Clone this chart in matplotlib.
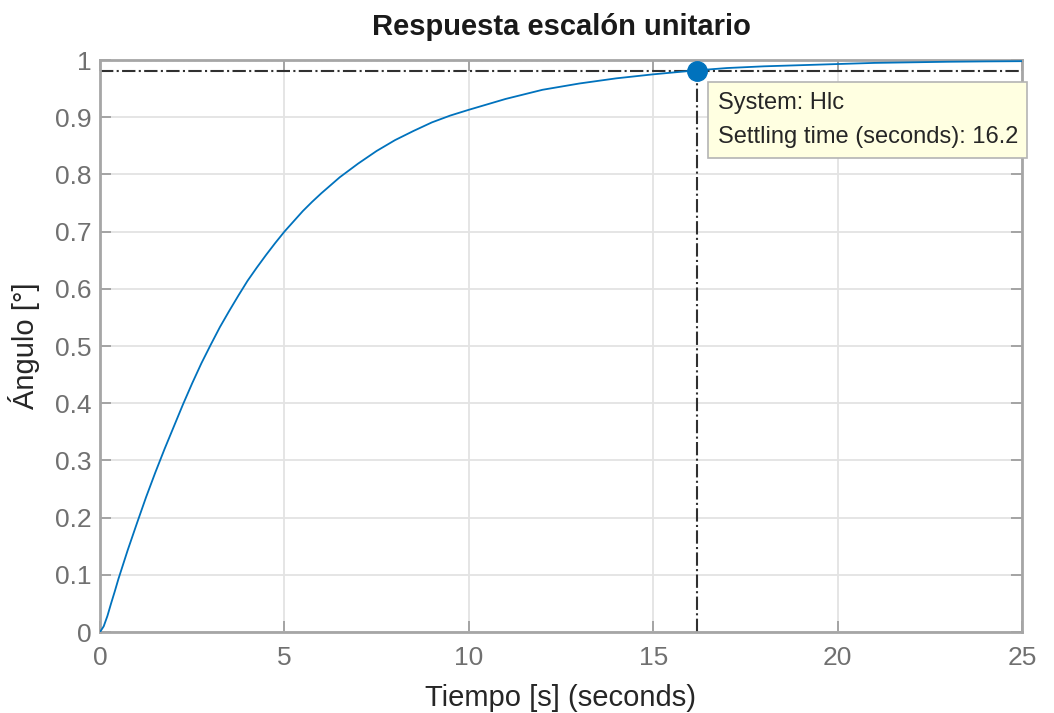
import matplotlib
matplotlib.use("Agg")
import matplotlib.pyplot as plt

plt.rcParams['font.family'] = ['Liberation Sans', 'DejaVu Sans']

# step response
t = [0, 0.1, 0.2, 0.3, 0.4, 0.5, 0.75, 1.0, 1.25, 1.5, 1.75, 2.0, 2.25, 2.5, 2.75,
     3.0, 3.25, 3.5, 3.75, 4.0, 4.25, 4.5, 4.75, 5.0, 5.25, 5.5, 5.75, 6.0, 6.25, 6.5, 6.75,
     7.0, 7.5, 8.0, 8.5, 9.0, 9.5, 10,
     11, 12, 13, 14, 15, 16, 17, 18, 19, 20, 21, 22, 23, 24, 25]
y = [0, 0.010, 0.028, 0.050, 0.071, 0.093, 0.143, 0.190, 0.236, 0.279, 0.320, 0.359, 0.398, 0.435, 0.470,
     0.502, 0.533, 0.561, 0.588, 0.614, 0.637, 0.659, 0.680, 0.700, 0.718, 0.736, 0.752, 0.767, 0.781, 0.795, 0.807,
     0.819, 0.841, 0.860, 0.876, 0.891, 0.903, 0.913,
     0.932, 0.948, 0.959, 0.968, 0.975, 0.981, 0.986, 0.989, 0.991, 0.993, 0.995, 0.996, 0.997, 0.9976, 0.998]

t_settle = 16.2
y_settle = 0.98
y_final = 1.0

xticks = [0, 5, 10, 15, 20, 25]
yticks = [0, 0.1, 0.2, 0.3, 0.4, 0.5, 0.6, 0.7, 0.8, 0.9, 1]
ytick_labels = ['0', '0.1', '0.2', '0.3', '0.4', '0.5', '0.6', '0.7', '0.8', '0.9', '1']

fig = plt.figure(figsize=(10.54, 7.13), dpi=100)
ax = fig.add_axes([0.0949, 0.1136, 0.8747, 0.8022])

ax.grid(True, color='#e3e3e3', linewidth=1.3)
ax.set_axisbelow(True)

ax.plot(t, y, color='#0072bd', linewidth=1.3, zorder=3)
ax.axhline(y_final, color='#303030', linestyle=':', linewidth=1.5, zorder=2)
ax.axhline(y_settle, color='#303030', linestyle='-.', linewidth=1.5, zorder=2)
ax.plot([t_settle, t_settle], [0, y_settle], color='#303030', linestyle='-.', linewidth=1.5, zorder=2)
ax.plot([t_settle], [y_settle], 'o', color='#0072bd', markersize=14, zorder=5)

ax.annotate('System: Hlc\nSettling time (seconds): 16.2', xy=(t_settle, y_settle),
            xytext=(14.5, -14.5), textcoords='offset points', va='top', ha='left',
            fontsize=17, color='#262626', linespacing=1.75, annotation_clip=False,
            bbox=dict(boxstyle='square,pad=0.4', fc='#ffffe1', ec='#b4b4b4', lw=1.2),
            zorder=6)

ax.set_xlim(0, 25)
ax.set_ylim(0, 1)
ax.set_xticks(xticks)
ax.set_yticks(yticks)
ax.set_yticklabels(ytick_labels)
ax.tick_params(direction='in', length=8, width=1.2, color='#999999', labelcolor='#707070',
               labelsize=19, top=True, right=True)
ax.tick_params(axis='x', pad=10)
ax.tick_params(axis='y', pad=6)
for s in ax.spines.values():
    s.set_color('#a6a6a6')
    s.set_linewidth(2)

ax.set_title('Respuesta escalón unitario', fontsize=21, fontweight='bold', color='#1a1a1a', pad=18)
ax.set_xlabel('Tiempo [s] (seconds)', fontsize=21, color='#262626', labelpad=10)
ax.set_ylabel('Ángulo [°]', fontsize=21, color='#262626', labelpad=11)

plt.savefig('out.png', dpi=100)
